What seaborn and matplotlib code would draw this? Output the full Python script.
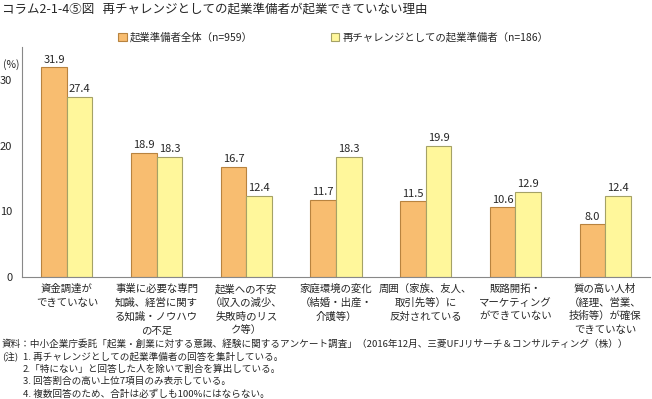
import pandas as pd
import matplotlib.pyplot as plt
import seaborn as sns
from matplotlib.patches import Patch

# ----------------------------------------------------
# データ
# ----------------------------------------------------
categories = [
    '資金調達が\nできていない',
    '事業に必要な専門\n知識、経営に関す\nる知識・ノウハウ\nの不足',
    '起業への不安\n（収入の減少、\n失敗時のリス\nク等）',
    '家庭環境の変化\n（結婚・出産・\n介護等）',
    '周囲（家族、友人、\n取引先等）に\n反対されている',
    '販路開拓・\nマーケティング\nができていない',
    '質の高い人材\n（経理、営業、\n技術等）が確保\nできていない',
]
series_names = ['起業準備者全体（n=959）', '再チャレンジとしての起業準備者（n=186）']
values_all = [31.9, 18.9, 16.7, 11.7, 11.5, 10.6, 8.0]
values_re = [27.4, 18.3, 12.4, 18.3, 19.9, 12.9, 12.4]

face_colors = ['#F8BD70', '#FFF79B']
edge_colors = ['#B8833F', '#A5A266']

df = pd.DataFrame({
    'cat': categories * 2,
    'series': [series_names[0]] * 7 + [series_names[1]] * 7,
    'value': values_all + values_re,
})

sns.set_style('white')
plt.rcParams['font.family'] = ['Noto Sans CJK JP', 'DejaVu Sans']

fig = plt.figure(figsize=(6.52, 3.99), dpi=100)
ax = fig.add_axes([22 / 652, 122 / 399, 628 / 652, 230 / 399])

sns.barplot(data=df, x='cat', y='value', hue='series', palette=face_colors,
            width=0.57, gap=0, ax=ax, legend=False, saturation=1)

# 枠線の色
for cont, ec in zip(ax.containers, edge_colors):
    for bar in cont:
        bar.set_edgecolor(ec)
        bar.set_linewidth(0.8)
    ax.bar_label(cont, fmt='%.1f', padding=2, fontsize=8)

ax.set_ylim(0, 35)
ax.set_xlim(-0.5, 6.5)
ax.set_yticks([0, 10, 20, 30])
ax.set_xlabel('')
ax.set_ylabel('')
ax.set_xticks(range(7))
ax.set_xticklabels(categories, fontsize=7.5, linespacing=1.45, va='top')
ax.set_xticks([i - 0.5 for i in range(8)], minor=True)
ax.tick_params(axis='x', which='major', length=0, pad=5)
ax.tick_params(axis='x', which='minor', length=4, direction='out', color='#888888', width=0.8)
ax.tick_params(axis='y', length=4, direction='out', color='#888888', width=0.8, labelsize=8, pad=3)
for s in ['top', 'right']:
    ax.spines[s].set_visible(False)
for s in ['left', 'bottom']:
    ax.spines[s].set_color('#888888')
    ax.spines[s].set_linewidth(0.8)

fig.text(3 / 652, 1 - 65 / 399, '(%)', fontsize=7.5, ha='left', va='center')

# 凡例
handles = [Patch(facecolor=fc, edgecolor=ec, linewidth=0.8) for fc, ec in zip(face_colors, edge_colors)]
fig.legend(handles, series_names, loc='center left', bbox_to_anchor=(113 / 652, 1 - 37 / 399),
           ncol=2, frameon=False, fontsize=7.5, handlelength=0.8, handleheight=0.8,
           handletextpad=0.3, columnspacing=7.5, borderpad=0)

# タイトル
fig.text(2 / 652, 1 - 9 / 399, 'コラム2-1-4⑤図   再チャレンジとしての起業準備者が起業できていない理由',
         fontsize=9, va='center', ha='left')

# 注記
fig.text(2 / 652, 1 - 344 / 399,
         '資料：中小企業庁委託「起業・創業に対する意識、経験に関するアンケート調査」（2016年12月、三菱UFJリサーチ＆コンサルティング（株））',
         fontsize=6.9, va='center', ha='left')
fig.text(2 / 652, 1 - 356.5 / 399, '(注)', fontsize=6.9, va='center', ha='left')
notes = [
    '1. 再チャレンジとしての起業準備者の回答を集計している。',
    '2.「特にない」と回答した人を除いて割合を算出している。',
    '3. 回答割合の高い上位7項目のみ表示している。',
    '4. 複数回答のため、合計は必ずしも100%にはならない。',
]
for i, line in enumerate(notes):
    fig.text(23 / 652, 1 - (356.5 + i * 12.5) / 399, line, fontsize=6.9, va='center', ha='left')

plt.savefig('out.png', dpi=100)
plt.close()
